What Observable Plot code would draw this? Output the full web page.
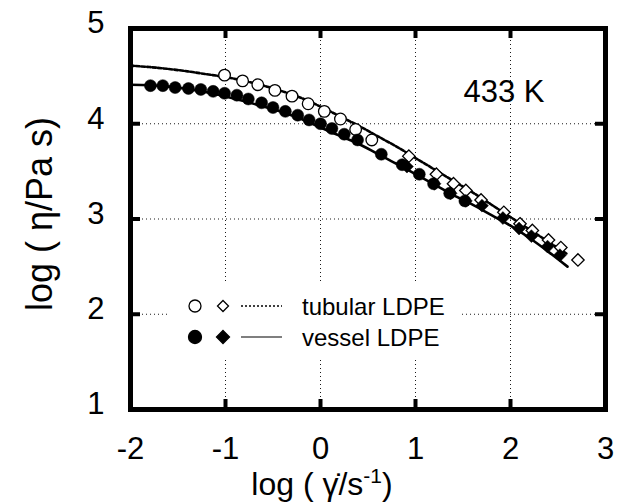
<!DOCTYPE html>
<html><head><meta charset="utf-8">
<script src="https://cdn.jsdelivr.net/npm/d3@7"></script>
<script src="https://cdn.jsdelivr.net/npm/@observablehq/plot@0.6"></script>
<style>
body{margin:0;background:#fff;}
#wrap{position:relative;width:620px;height:504px;font-family:"Liberation Sans",Arial,sans-serif;}
#legend{position:absolute;left:170px;top:282px;width:292px;height:78px;background:#fff;}
</style></head><body><div id="wrap"></div>
<script>
// ---- data (log shear rate, log viscosity) ----
const xTicks = [-2, -1, 0, 1, 2, 3];
const yTicks = [1, 2, 3, 4, 5];

const tubCircX = [-1.01, -0.82, -0.66, -0.48, -0.30, -0.13, 0.04, 0.21, 0.37, 0.54];
const tubCircY = [4.51, 4.45, 4.41, 4.35, 4.29, 4.21, 4.13, 4.05, 3.94, 3.83];
const tubDiamX = [0.93, 1.22, 1.40, 1.53, 1.69, 1.93, 2.10, 2.23, 2.40, 2.53, 2.71];
const tubDiamY = [3.66, 3.47, 3.37, 3.30, 3.20, 3.07, 2.95, 2.88, 2.78, 2.70, 2.57];

const vesCircX = [-1.79, -1.66, -1.53, -1.39, -1.26, -1.13, -1.01, -0.88, -0.76, -0.62, -0.50, -0.37, -0.24, -0.12, 0.00, 0.12, 0.25, 0.39, 0.64, 0.86, 1.04, 1.19, 1.36, 1.52];
const vesCircY = [4.40, 4.40, 4.38, 4.37, 4.36, 4.34, 4.32, 4.30, 4.26, 4.22, 4.17, 4.13, 4.09, 4.04, 4.00, 3.95, 3.89, 3.83, 3.68, 3.57, 3.47, 3.37, 3.27, 3.19];
const vesDiamX = [0.91, 1.20, 1.37, 1.53, 1.70, 1.92, 2.09, 2.22, 2.39, 2.52];
const vesDiamY = [3.55, 3.37, 3.27, 3.19, 3.14, 3.01, 2.90, 2.82, 2.71, 2.62];

const fitX    = [-2, -1.8, -1.6, -1.4, -1.2, -1.0, -0.8, -0.6, -0.4, -0.2, 0, 0.2, 0.4, 0.6, 0.8, 1.0, 1.2, 1.4, 1.6, 1.8, 2.0, 2.2, 2.4, 2.6];
const tubFitY = [4.61, 4.595, 4.575, 4.55, 4.52, 4.49, 4.45, 4.40, 4.34, 4.27, 4.18, 4.08, 3.98, 3.87, 3.76, 3.64, 3.52, 3.40, 3.28, 3.15, 3.02, 2.89, 2.76, 2.63];
const vesFitY = [4.41, 4.405, 4.39, 4.365, 4.33, 4.285, 4.235, 4.18, 4.12, 4.05, 3.96, 3.875, 3.79, 3.685, 3.58, 3.47, 3.36, 3.25, 3.15, 3.04, 2.93, 2.80, 2.655, 2.50];

const tempLabel = "433 K";
const seriesNames = ["tubular LDPE", "vessel LDPE"];

const zip = (xs, ys) => xs.map((x, i) => ({x, y: ys[i]}));
const FONT = "Liberation Sans, Arial, sans-serif";

const W = 620, H = 504, ML = 130, MR = 15, MT = 28, MB = 95;
const frameW = W - ML - MR, frameH = H - MT - MB, TICK = 10;

const plot = Plot.plot({
  width: W, height: H,
  marginLeft: ML, marginRight: MR, marginTop: MT, marginBottom: MB,
  style: {fontFamily: FONT, background: "white", color: "black"},
  x: {domain: [-2, 3]},
  y: {domain: [1, 5]},
  marks: [
    Plot.gridX(xTicks.slice(1, -1), {stroke: "black", strokeOpacity: 0.9, strokeDasharray: "1,3"}),
    Plot.gridY(yTicks.slice(1, -1), {stroke: "black", strokeOpacity: 0.9, strokeDasharray: "1,3"}),
    Plot.line(zip(fitX, tubFitY), {x: "x", y: "y", curve: "catmull-rom", stroke: "black", strokeWidth: 2.6, strokeDasharray: "3.5,2"}),
    Plot.line(zip(fitX, vesFitY), {x: "x", y: "y", curve: "catmull-rom", stroke: "black", strokeWidth: 2.6}),
    Plot.dot(zip(tubCircX, tubCircY), {x: "x", y: "y", r: 5.8, fill: "white", stroke: "black", strokeWidth: 1.3}),
    Plot.dot(zip(tubDiamX, tubDiamY), {x: "x", y: "y", r: 5.6, symbol: "diamond2", fill: "white", stroke: "black", strokeWidth: 1.3}),
    Plot.dot(zip(vesCircX, vesCircY), {x: "x", y: "y", r: 6, fill: "black", stroke: "black", strokeWidth: 0.5}),
    Plot.dot(zip(vesDiamX, vesDiamY), {x: "x", y: "y", r: 5.8, symbol: "diamond2", fill: "black", stroke: "black", strokeWidth: 0.5}),
    Plot.text([tempLabel], {frameAnchor: "top-right", textAnchor: "start", lineAnchor: "bottom", dx: -142, dy: 73, fontSize: 31}),
    Plot.frame({stroke: "black", strokeWidth: 5}),
    // inward ticks on all four sides (drawn after the frame)
    Plot.tickX(xTicks, {x: d => d, insetTop: frameH - TICK, stroke: "black", strokeWidth: 4}),
    Plot.tickX(xTicks, {x: d => d, insetBottom: frameH - TICK, stroke: "black", strokeWidth: 4}),
    Plot.tickY(yTicks, {y: d => d, insetRight: frameW - TICK, stroke: "black", strokeWidth: 4}),
    Plot.tickY(yTicks, {y: d => d, insetLeft: frameW - TICK, stroke: "black", strokeWidth: 4}),
    Plot.axisX(xTicks, {anchor: "bottom", tickSize: 0, tickPadding: 27, fontSize: 31, tickFormat: d => String(d), label: null}),
    Plot.axisY(yTicks, {anchor: "left", tickSize: 0, tickPadding: 26, fontSize: 31, dy: -5, tickFormat: d => String(d), label: null})
  ]
});

const wrap = document.getElementById("wrap");
wrap.appendChild(plot);

const svg = d3.select(plot);
// y-axis label
svg.append("text")
  .attr("transform", "translate(52,214) rotate(-90)")
  .attr("text-anchor", "middle")
  .attr("font-size", 36).attr("font-family", FONT)
  .text("log ( η/Pa s)");
// x-axis label
const xl = svg.append("text")
  .attr("x", 322).attr("y", 495)
  .attr("text-anchor", "middle")
  .attr("font-size", 32).attr("font-family", FONT);
xl.append("tspan").text("log ( \u03B3\u0307/s");
xl.append("tspan").attr("dy", -12).attr("font-size", 21).text("-1");
xl.append("tspan").attr("dy", 12).text(")");

// legend
const leg = d3.select(wrap).append("div").attr("id", "legend")
  .append("svg").attr("width", 292).attr("height", 78)
  .style("font-family", FONT);
const rows = [
  {name: seriesNames[0], fill: "white", dash: "2,2", lw: 1.3, yy: 24},
  {name: seriesNames[1], fill: "black", dash: null, lw: 1.2, yy: 55}
];
rows.forEach(r => {
  const g = leg.append("g").attr("transform", `translate(0,${r.yy})`);
  g.append("circle").attr("cx", 25).attr("cy", 0).attr("r", r.fill === "white" ? 6 : 6.5)
    .attr("fill", r.fill).attr("stroke", "black").attr("stroke-width", 1.3);
  const d = r.fill === "white" ? 5.5 : 6.5;
  g.append("path").attr("d", `M${53},${-d}L${53 + d},0L${53},${d}L${53 - d},0Z`)
    .attr("fill", r.fill).attr("stroke", "black").attr("stroke-width", 1.3);
  g.append("line").attr("x1", 71).attr("x2", 112).attr("y1", 0).attr("y2", 0)
    .attr("stroke", "black").attr("stroke-width", r.lw).attr("stroke-dasharray", r.dash);
  g.append("text").attr("x", 132).attr("y", 8.5).attr("font-size", 24).text(r.name);
});
</script></body></html>
